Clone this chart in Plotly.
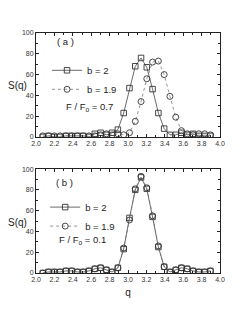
import plotly.graph_objects as go
from plotly.subplots import make_subplots

q = [2.074, 2.136, 2.199, 2.262, 2.325, 2.388, 2.450, 2.513, 2.576, 2.639,
     2.702, 2.765, 2.827, 2.890, 2.953, 3.016, 3.079, 3.142, 3.204, 3.267,
     3.330, 3.393, 3.456, 3.519, 3.581, 3.644, 3.707, 3.770, 3.833, 3.896]

# panel (a), F/Fo = 0.7
a_b2 = [0, 1, 0, 0, 1, 1, 1, 1, 0, 3, 4, 2, 4, 7, 23, 47, 68, 76, 67, 46,
        23, 8, 2, 2, 4, 2, 3, 1, 1, 1]
a_b19 = [1, 1, 1, 1, 1, 1, 1, 1, 1, 1, 2, 3, 2, 3, 2, 4, 15, 34, 56, 72,
         73, 60, 39, 19, 6, 3, 2, 3, 3, 2]

# panel (b), F/Fo = 0.1
b_b2 = [0, 1, 1, 1, 2, 2, 1, 1, 2, 4, 5, 3, 1, 5, 23, 53, 80, 92, 81, 54,
        25, 6, 1, 3, 5, 4, 2, 1, 1, 2]
b_b19 = [0, 1, 1, 1, 2, 2, 1, 1, 2, 4, 5, 3, 1, 5, 24, 51, 81, 93, 82, 55,
         26, 6, 1, 3, 5, 4, 2, 1, 1, 2]

xticks = [2.0, 2.2, 2.4, 2.6, 2.8, 3.0, 3.2, 3.4, 3.6, 3.8, 4.0]
yticks = [0, 20, 40, 60, 80, 100]

fig = make_subplots(rows=2, cols=1, vertical_spacing=0.134)

line_col = "#444444"
FONT = "Liberation Sans, Arial, sans-serif"

def add_pair(row, y2, y19, legend):
    fig.add_trace(go.Scatter(
        x=q, y=y2, mode="lines+markers", name="b = 2",
        line=dict(color=line_col, width=0.8),
        marker=dict(symbol="square-open", size=5.5, color="#333333",
                    line=dict(width=0.9)),
        legend=legend), row=row, col=1)
    fig.add_trace(go.Scatter(
        x=q, y=y19, mode="lines+markers", name="b = 1.9",
        line=dict(color="#777777", width=0.8, dash="dot"),
        marker=dict(symbol="circle-open", size=6, color="#333333",
                    line=dict(width=0.9)),
        legend=legend), row=row, col=1)

add_pair(1, a_b2, a_b19, "legend")
add_pair(2, b_b2, b_b19, "legend2")

axis_common = dict(
    showline=True, linecolor="#222222", linewidth=1, mirror="allticks",
    ticks="inside", ticklen=3, tickwidth=0.8, tickcolor="#222222",
    tickfont=dict(size=7, color="#333333", family=FONT),
    showgrid=False, zeroline=False,
)
for r in (1, 2):
    fig.update_xaxes(range=[2.0, 4.0], tickvals=xticks,
                     ticktext=[f"{v:.1f}" for v in xticks],
                     minor=dict(dtick=0.1, ticks="inside", ticklen=2,
                                tickcolor="#222222"),
                     row=r, col=1, **axis_common)
    fig.update_yaxes(range=[0, 100], tickvals=yticks,
                     minor=dict(dtick=10, ticks="inside", ticklen=2,
                                tickcolor="#222222"),
                     row=r, col=1, **axis_common)

fig.update_yaxes(domain=[0.567, 1.0], row=1, col=1)
fig.update_yaxes(domain=[0.0, 0.433], row=2, col=1)
fig.update_xaxes(title=dict(text="q", font=dict(size=10, family=FONT,
                 color="#222222"), standoff=6), automargin=False, row=2, col=1)
fig.update_xaxes(automargin=False, row=1, col=1)
fig.update_yaxes(automargin=False)

legend_style = dict(font=dict(size=9.5, family=FONT, color="#222222"),
                    bgcolor="rgba(0,0,0,0)", itemwidth=30,
                    tracegroupgap=0, xanchor="left", yanchor="top")
# the page body has an 8px margin, so the figure is sized 8px smaller
fig.update_layout(
    width=237, height=313,
    margin=dict(l=28, r=25, t=25, b=48, autoexpand=False),
    paper_bgcolor="white", plot_bgcolor="white",
    showlegend=True,
    legend=dict(x=0.06, y=0.905, **legend_style),
    legend2=dict(x=0.05, y=0.335, **legend_style),
    font=dict(family=FONT),
)

panels = [
    dict(label="( a )", lx=0.103, ly=0.9625, ff="0.7", fx=0.152, fy=0.692, sy=0.783),
    dict(label="( b )", lx=0.100, ly=0.379, ff="0.1", fx=0.114, fy=0.1375, sy=0.2125),
]
ann = []
for p in panels:
    ann.append(dict(xref="paper", yref="paper", x=p["lx"], y=p["ly"],
                    text=p["label"], showarrow=False, xanchor="left",
                    yanchor="middle",
                    font=dict(size=9.5, family=FONT, color="#222222")))
    ann.append(dict(xref="paper", yref="paper", x=p["fx"], y=p["fy"],
                    text=f"F / F<sub>o</sub> = {p['ff']}", showarrow=False,
                    xanchor="left", yanchor="middle",
                    font=dict(size=9.5, family=FONT, color="#222222")))
    ann.append(dict(xref="paper", yref="paper", x=-0.10, y=p["sy"],
                    text="S(q)", showarrow=False, xanchor="center",
                    yanchor="middle",
                    font=dict(size=10, family=FONT, color="#222222")))
fig.update_layout(annotations=ann)

fig.write_html("out.html")
